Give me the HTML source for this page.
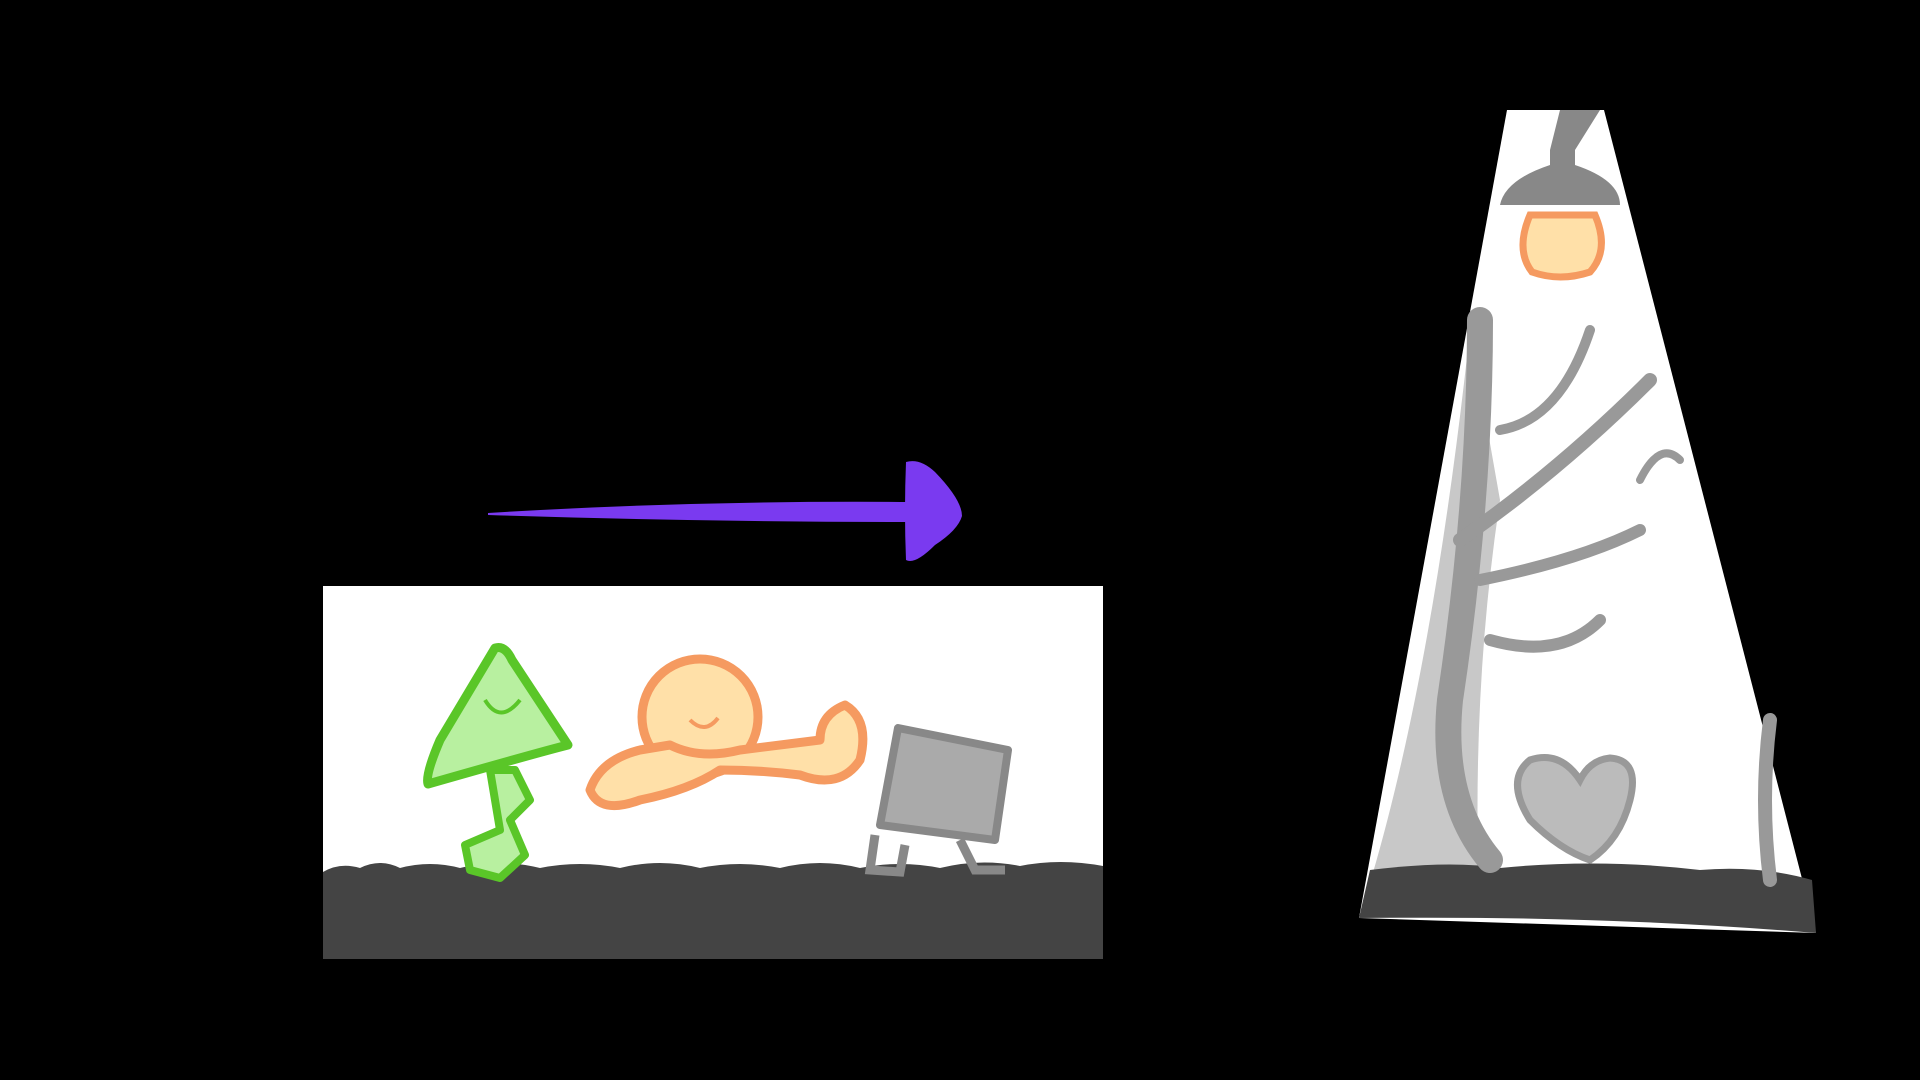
<!DOCTYPE html>
<html><head><meta charset="utf-8"><style>
html,body{margin:0;padding:0;background:#000;width:1920px;height:1080px;overflow:hidden}
svg{display:block}
</style></head><body>
<svg width="1920" height="1080" viewBox="0 0 1920 1080">
  <rect width="1920" height="1080" fill="#000"/>
  <!-- purple arrow -->
  <g>
    <path d="M488,513 Q700,500 912,502 L912,522 Q700,522 488,515 Z" fill="#7a3af0"/>
    <path d="M906,462 Q920,458 935,472 Q962,500 962,516 Q958,530 935,545 Q915,565 906,560 Q904,512 906,462 Z" fill="#7a3af0"/>
  </g>
  <!-- left panel -->
  <g>
    <rect x="323" y="586" width="780" height="373" fill="#fff"/>
    <path d="M323,872 Q340,862 360,868 Q380,858 400,868 Q430,860 460,868 Q500,858 540,868 Q580,860 620,868 Q660,858 700,868 Q740,860 780,868 Q820,858 860,868 Q900,860 940,868 Q980,858 1020,866 Q1060,858 1103,866 L1103,959 L323,959 Z" fill="#444"/>
    <!-- green triangle character -->
    <g>
      <path d="M495,648 Q505,645 512,660 L568,745 Q540,752 428,784 Q425,775 440,740 Z" fill="#b8f0a0" stroke="#5ac628" stroke-width="9" stroke-linejoin="round"/>
      <path d="M490,770 L500,830 L465,845 L470,870 L500,878 L525,855 L510,820 L530,800 L515,770 Z" fill="#b8f0a0" stroke="#5ac628" stroke-width="8" stroke-linejoin="round"/>
      <path d="M485,700 Q500,725 520,700" fill="none" stroke="#5ac628" stroke-width="4"/>
    </g>
    <!-- orange blob character -->
    <g>
      <ellipse cx="700" cy="717" rx="58" ry="58" fill="#ffe0a8" stroke="#f59a60" stroke-width="9"/>
      <path d="M640,750 Q600,760 590,790 Q600,815 640,800 Q690,790 720,770 Q760,770 800,775 Q840,790 860,760 Q870,720 845,705 Q820,715 820,740 Q780,745 740,750 Q700,760 670,745 Z" fill="#ffe0a8" stroke="#f59a60" stroke-width="9" stroke-linejoin="round"/>
      <path d="M690,720 Q705,735 718,718" fill="none" stroke="#f59a60" stroke-width="4"/>
    </g>
    <!-- gray square character -->
    <g>
      <path d="M898,728 L1008,750 L995,840 L880,825 Z" fill="#aaa" stroke="#888" stroke-width="8" stroke-linejoin="round"/>
      <path d="M875,835 L870,870 L900,872 L905,845 M960,840 L975,870 L1005,870" fill="none" stroke="#888" stroke-width="9"/>
    </g>
  </g>
  <!-- right trapezoid panel -->
  <g>
    <path d="M1507,110 L1604,110 L1816,933 L1359,918 Z" fill="#fff"/>
    <path d="M1470,330 Q1430,700 1359,918 L1480,918 Q1470,700 1500,500 Z" fill="#c8c8c8"/>
    <path d="M1370,870 Q1450,860 1500,868 Q1600,858 1700,870 Q1760,865 1812,880 L1816,933 Q1600,915 1359,918 Z" fill="#444"/>
    <g fill="none" stroke="#999" stroke-linecap="round">
      <path d="M1480,320 Q1480,500 1450,700 Q1440,800 1490,860" stroke-width="26"/>
      <path d="M1460,540 Q1560,470 1650,380" stroke-width="14"/>
      <path d="M1480,580 Q1580,560 1640,530" stroke-width="12"/>
      <path d="M1490,640 Q1560,660 1600,620" stroke-width="12"/>
      <path d="M1500,430 Q1560,420 1590,330" stroke-width="10"/>
      <path d="M1640,480 Q1660,440 1680,460" stroke-width="8"/>
      <path d="M1770,720 Q1760,800 1770,880" stroke-width="14"/>
    </g>
    <g>
      <path d="M1580,780 Q1560,750 1530,760 Q1505,780 1530,820 Q1560,850 1590,860 Q1620,840 1630,800 Q1640,760 1610,758 Q1590,760 1580,780 Z" fill="#bbb" stroke="#999" stroke-width="7"/>
    </g>
    <g>
      <path d="M1560,110 L1600,110 L1575,150 L1575,165 Q1620,180 1620,205 L1500,205 Q1505,180 1550,165 L1550,150 Z" fill="#888"/>
      <path d="M1530,215 L1595,215 Q1610,250 1590,272 Q1560,282 1532,272 Q1515,250 1530,215 Z" fill="#ffe0a8" stroke="#f59a60" stroke-width="7"/>
    </g>
  </g>
</svg>
</body></html>
